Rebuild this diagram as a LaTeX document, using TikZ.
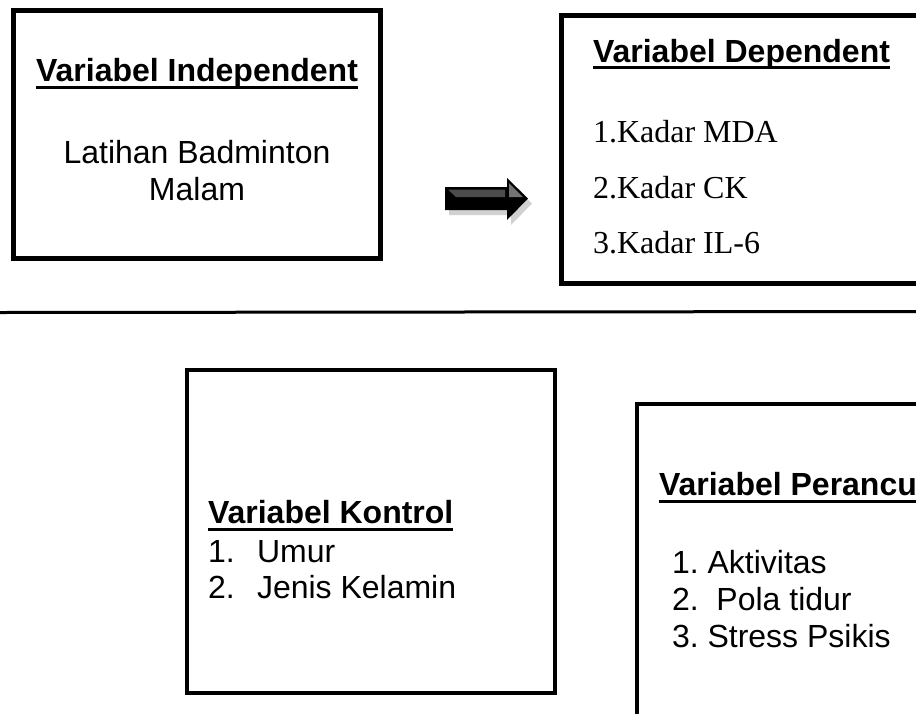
\documentclass[tikz,border=0pt]{standalone}
\usepackage{fontspec}
\setmainfont{Liberation Serif}
\newfontfamily\arialfont{Liberation Sans}
\usetikzlibrary{calc}
\frenchspacing

\begin{document}
\begin{tikzpicture}[x=1pt,y=-1pt,
  frame/.style={draw=black, rectangle, inner sep=0pt, outer sep=0pt},
  txt/.style={inner sep=0pt, outer sep=0pt, font=\arialfont\fontsize{32}{37}\selectfont},
  head/.style={inner sep=0pt, outer sep=0pt, font=\arialfont\bfseries\fontsize{32}{37}\selectfont},
  serifitem/.style={inner sep=0pt, outer sep=0pt, anchor=base west, font=\fontsize{32}{37}\selectfont},
  uline/.style={line width=3pt}
]
\useasboundingbox (0,0) rectangle (916,713);
\clip (0,0) rectangle (916,713);

% independent variable
\node[frame, line width=5pt, minimum width=367pt, minimum height=247.5pt] (indep) at (196.5,134.25) {};
\node[head, anchor=base] (indepT) at (197,81) {Variabel Independent};
\draw[uline] ($(indepT.base west)+(0,6)$) -- ($(indepT.base east)+(0,6)$);
\node[txt, anchor=base] (indepA) at (197,163) {Latihan Badminton};
\node[txt, anchor=base] (indepB) at (197,200) {Malam};

% dependent variables
\node[frame, line width=5pt, minimum width=400pt, minimum height=268pt] (dep) at (761,149) {};
\node[head, anchor=base west] (depT) at (593,62) {Variabel Dependent};
\draw[uline] ($(depT.base west)+(0,5)$) -- ($(depT.base east)+(0,5)$);
\node[serifitem] (d1) at (593,142) {1.Kadar MDA};
\node[serifitem] (d2) at (593,198) {2.Kadar CK};
\node[serifitem] (d3) at (593,253) {3.Kadar IL-6};

% block arrow between the two upper boxes
\fill[black, opacity=0.18] (449,192) -- (511,192) -- (511,183) -- (532,203.5) -- (511,225) -- (511,215) -- (449,215) -- cycle;
\fill[black] (445,187) coordinate (arrTail) -- (507,187) -- (507,178) -- (528,198.5) coordinate (arrTip) -- (507,220) -- (507,210) -- (445,210) -- cycle;
\fill[black!70] (448,189.5) -- (505,189.5) -- (505,197) -- (456,197) -- cycle;
\fill[black!55] (509,183) -- (523,197) -- (509,197) -- cycle;

% separator
\coordinate (sepL) at (0,312.5);
\coordinate (sepR) at (916,311.5);
\draw[line width=3pt] (sepL) -- (sepR);

% control variables
\node[frame, line width=3.5pt, minimum width=368pt, minimum height=323pt] (ctrl) at (371,531.5) {};
\node[head, anchor=base west] (ctrlT) at (208,523) {Variabel Kontrol};
\draw[uline] ($(ctrlT.base west)+(0,6)$) -- ($(ctrlT.base east)+(0,6)$);
\node[txt, anchor=base west] (c1n) at (208,562) {1.};
\node[txt, anchor=base west] (c1) at (257,562) {Umur};
\node[txt, anchor=base west] (c2n) at (208,598) {2.};
\node[txt, anchor=base west] (c2) at (257,598) {Jenis Kelamin};

% confounding variables
\node[frame, line width=4pt, minimum width=350pt, minimum height=380pt] (conf) at (812,594) {};
\node[head, anchor=base west] (confT) at (659,495) {Variabel Perancu};
\draw[uline] ($(confT.base west)+(0,6)$) -- ($(confT.base east)+(0,6)$);
\node[txt, anchor=base west] (p1) at (672,573) {1. Aktivitas};
\node[txt, anchor=base west] (p2) at (672,610) {2.\ \ Pola tidur};
\node[txt, anchor=base west] (p3) at (672,647) {3. Stress Psikis};
\end{tikzpicture}
\end{document}
